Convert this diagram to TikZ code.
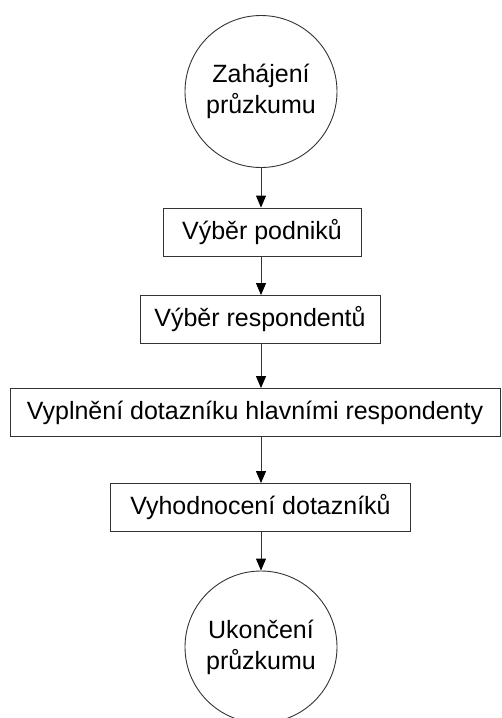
\documentclass[tikz,border=0pt]{standalone}
\usepackage{fontspec}
\setmainfont{Liberation Sans}
\usetikzlibrary{arrows.meta,positioning}
\definecolor{linegray}{HTML}{333333}

\begin{document}
\begin{tikzpicture}[x=1pt,y=-1pt,
    stagebox/.style={draw=linegray, line width=0.9pt, minimum height=48pt, inner sep=0pt,
        font=\fontsize{25}{30}\selectfont},
    terminal/.style={draw=linegray, line width=0.9pt, circle, minimum size=152pt, inner sep=0pt,
        align=center, font=\fontsize{25}{31}\selectfont},
    flow/.style={-{Triangle[length=12pt,width=10pt,color=black]}, line width=0.9pt, draw=linegray}]
    \useasboundingbox (0,0) rectangle (502,718);

    % Start and end of the survey
    \node[terminal] (start) at (261,91.5) {Zahájení\\průzkumu};
    \node[terminal] (finish) at (261,647) {Ukončení\\průzkumu};

    % Survey steps
    \node[stagebox, minimum width=198pt] (firms) at (262,232) {Výběr podniků};
    \node[stagebox, minimum width=240pt] (resp) at (260,319.5) {Výběr respondentů};
    \node[stagebox, minimum width=490pt] (fill) at (255,412.5) {Vyplnění dotazníku hlavními respondenty};
    \node[stagebox, minimum width=300pt] (eval) at (260.5,507.5) {Vyhodnocení dotazníků};

    % Flow arrows
    \draw[flow] (start.south) -- (start.south |- firms.north);
    \draw[flow] (start.south |- firms.south) -- (start.south |- resp.north);
    \draw[flow] (start.south |- resp.south) -- (start.south |- fill.north);
    \draw[flow] (start.south |- fill.south) -- (start.south |- eval.north);
    \draw[flow] (start.south |- eval.south) -- (finish.north);

\end{tikzpicture}
\end{document}
